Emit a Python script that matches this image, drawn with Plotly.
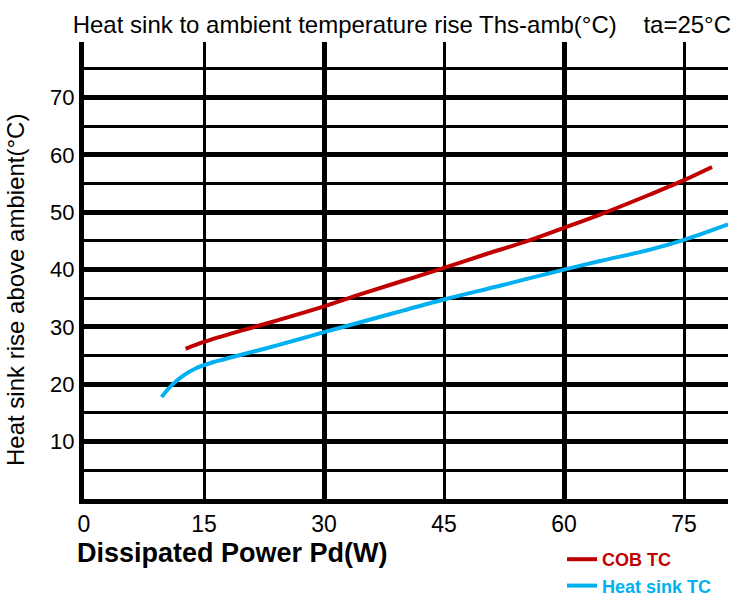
import plotly.graph_objects as go

# Data
cob_x = [12.7, 15, 20, 22.8, 30, 35, 40, 45, 50, 55, 60, 64.5, 70.75, 75, 78.5]
cob_y = [26.2, 27.4, 29.5, 30.6, 33.6, 35.9, 38.1, 40.3, 42.6, 44.8, 47.3, 49.6, 53.1, 55.6, 57.9]

hs_x = [9.7, 11.0, 12.5, 14.0, 16.0, 18.7, 22.8, 27, 30, 35, 40, 45, 52, 60, 64.5, 70.75, 75, 80.5]
hs_y = [17.8, 19.9, 21.6, 22.8, 23.8, 24.8, 26.3, 27.9, 29.1, 31.0, 32.9, 34.8, 37.2, 40.0, 41.5, 43.5, 45.2, 47.9]

x_ticks = [0, 15, 30, 45, 60, 75]
x_major = [0, 30, 60]
y_ticks = [10, 20, 30, 40, 50, 60, 70]

FONT = "Liberation Sans, Arial, sans-serif"
RED = "#c00000"
CYAN = "#00b0f0"

fig = go.Figure()
fig.add_trace(go.Scatter(
    x=cob_x, y=cob_y, mode="lines", line=dict(color=RED, width=4, shape="spline", smoothing=1.0),
    name=f"<b><span style='color:{RED}'>COB TC</span></b>", legendgroup="a"))
fig.add_trace(go.Scatter(
    x=hs_x, y=hs_y, mode="lines", line=dict(color=CYAN, width=4, shape="spline", smoothing=1.0),
    name=f"<b><span style='color:{CYAN}'>Heat sink TC</span></b>", legendgroup="b"))
# invisible trace to host the overlay axis with heavy grid lines
fig.add_trace(go.Scatter(x=[], y=[], xaxis="x2", showlegend=False, hoverinfo="skip"))

fig.update_layout(
    width=754, height=599,
    margin=dict(l=84, r=26, t=42, b=100, autoexpand=False),
    paper_bgcolor="white", plot_bgcolor="white",
    font=dict(family=FONT, color="black"),
    title=dict(
        text="Heat sink to ambient temperature rise Ths-amb(°C)\u00a0\u00a0\u00a0\u00a0ta=25°C",
        font=dict(size=24, family=FONT, color="black"),
        xref="container", x=72.7 / 754, xanchor="left",
        yref="container", y=1 - 25 / 599, yanchor="middle"),
    xaxis=dict(
        range=[0, 80.5], tickvals=x_ticks, ticks="", showgrid=True,
        gridcolor="black", gridwidth=3, zeroline=False,
        showline=True, linecolor="black", linewidth=5,
        tickfont=dict(size=23, family=FONT, color="black")),
    xaxis2=dict(
        range=[0, 80.5], overlaying="x", anchor="y", side="bottom",
        tickvals=x_major, showticklabels=False, ticks="", showgrid=True,
        gridcolor="black", gridwidth=5, zeroline=False, showline=False),
    yaxis=dict(
        range=[0, 79.7], tickvals=y_ticks, ticks="", showgrid=True,
        gridcolor="black", gridwidth=5, zeroline=False,
        showline=True, linecolor="black", linewidth=5,
        tickfont=dict(size=22, family=FONT, color="black"),
        minor=dict(tick0=0, dtick=5, showgrid=True, gridcolor="black", gridwidth=3)),
    legend=dict(
        x=(562 - 84) / 644, xanchor="left", y=(499 - 541) / 457, yanchor="top",
        font=dict(size=18, family=FONT), bgcolor="rgba(0,0,0,0)",
        traceorder="grouped", tracegroupgap=0, itemwidth=30),
    annotations=[
        dict(text="<b>Dissipated Power Pd(W)</b>", xref="paper", yref="paper",
             x=(75 - 84) / 644, xanchor="left", y=(499 - 553) / 457, yanchor="middle",
             showarrow=False, font=dict(size=27, family=FONT, color="black")),
        dict(text="Heat sink rise above ambient(°C)", xref="paper", yref="paper",
             x=(15 - 84) / 644, xanchor="center", y=(499 - 290) / 457, yanchor="middle",
             textangle=-90, showarrow=False,
             font=dict(size=24, family=FONT, color="black")),
    ],
)

fig.write_html("out.html", config={"displayModeBar": False},
               post_script="document.body.style.margin='0';")
